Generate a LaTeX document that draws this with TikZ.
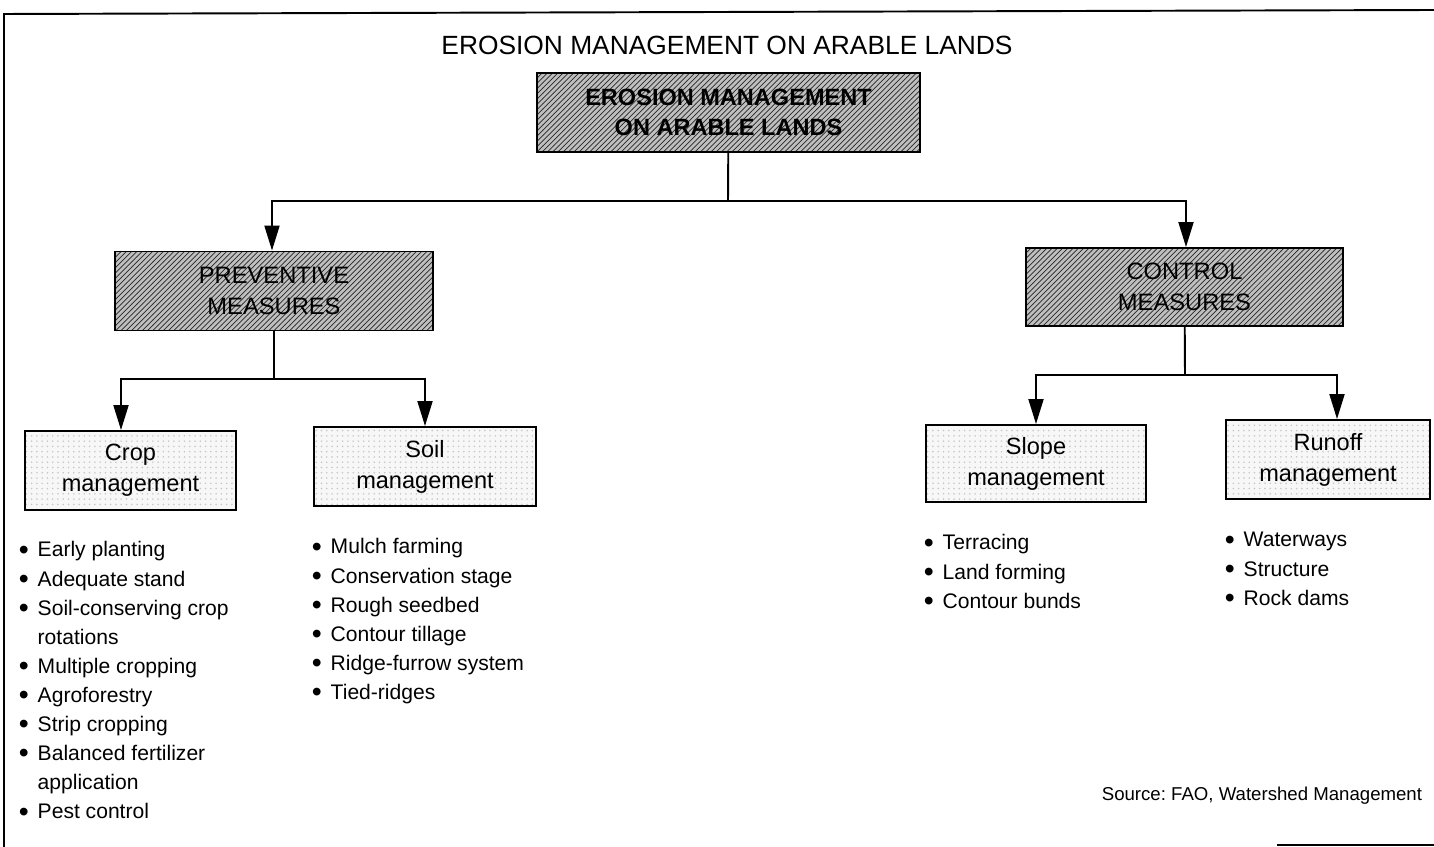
\documentclass[tikz,border=0pt]{standalone}
\usepackage{fontspec}
\setmainfont{Liberation Sans}
\usetikzlibrary{arrows.meta}
\usetikzlibrary{patterns}
\usetikzlibrary{positioning}

\tikzset{
  mainbox/.style={draw, line width=1.1pt, preaction={fill=gray!50},
    pattern=north east lines, pattern color=gray!30!black,
    align=center, inner sep=0pt, font=\fontsize{13.5}{17.6}\selectfont},
  subbox/.style={draw, line width=1.1pt, preaction={fill=gray!6},
    pattern=dots, pattern color=gray!45,
    align=center, inner sep=0pt, font=\fontsize{13.4}{17.6}\selectfont},
  items/.style={anchor=base west, inner sep=0pt, font=\fontsize{12}{16.55}\selectfont},
  arr/.style={-{Triangle[length=5mm, width=3mm]}},
}

\newcommand{\bul}{\raisebox{-0.11em}{\scalebox{1.35}{\textbullet}}}

\begin{document}
\frenchspacing
\begin{tikzpicture}[x=0.02cm, y=-0.02cm, line width=1.1pt]

    \useasboundingbox (0,0) rectangle (1434,847);

    % page frame of the scan
    \draw (4,847) -- (4,14) -- (1434,10);
    \draw (1277,845) -- (1434,845);

    \node[font=\fontsize{15}{18}\selectfont] (head) at (727,45)
    {EROSION MANAGEMENT ON ARABLE LANDS};

    % boxes
    \node[mainbox, minimum width=7.66cm, minimum height=1.58cm,
      font=\bfseries\fontsize{13.4}{17}\selectfont] (top) at (728.5,112.5)
    {EROSION MANAGEMENT\\ON ARABLE LANDS};
    \node[mainbox, minimum width=6.36cm, minimum height=1.58cm] (prev)
    at (274,291) {PREVENTIVE\\MEASURES};
    \node[mainbox, minimum width=6.34cm, minimum height=1.56cm] (ctrl)
    at (1184.5,287) {CONTROL\\MEASURES};
    \node[subbox, minimum width=4.22cm, minimum height=1.58cm] (crop)
    at (130.5,470.5) {Crop\\management};
    \node[subbox, minimum width=4.44cm, minimum height=1.58cm] (soil)
    at (425,466.5) {Soil\\management};
    \node[subbox, minimum width=4.40cm, minimum height=1.54cm] (slope)
    at (1036,463.5) {Slope\\management};
    \node[subbox, minimum width=4.08cm, minimum height=1.58cm] (runoff)
    at (1328,459.5) {Runoff\\management};

    % junctions of the tree
    \coordinate (t1) at (728,201);
    \coordinate (t1l) at (272,201);
    \coordinate (t1r) at (1186,201);
    \coordinate (p1) at (274,379);
    \coordinate (p1l) at (121,379);
    \coordinate (p1r) at (425,379);
    \coordinate (c1) at (1185,375);
    \coordinate (c1l) at (1036,375);
    \coordinate (c1r) at (1337,375);

    \draw (top) -- (t1);
    \draw[arr] (t1) -- (t1l) -- (t1l |- prev.north);
    \draw[arr] (t1) -- (t1r) -- (t1r |- ctrl.north);
    \draw (prev) -- (p1);
    \draw[arr] (p1) -- (p1l) -- (p1l |- crop.north);
    \draw[arr] (p1) -- (p1r) -- (p1r |- soil.north);
    \draw (ctrl) -- (c1);
    \draw[arr] (c1) -- (c1l) -- (c1l |- slope.north);
    \draw[arr] (c1) -- (c1r) -- (c1r |- runoff.north);

    % lists under the boxes
    \node[items] (croplist) at (18,557) {\begin{tabular}[t]{@{}l@{\hspace{5pt}}l@{}}
      \bul & Early planting\\
      \bul & Adequate stand\\
      \bul & Soil-conserving crop\\
           & rotations\\
      \bul & Multiple cropping\\
      \bul & Agroforestry\\
      \bul & Strip cropping\\
      \bul & Balanced fertilizer\\
           & application\\
      \bul & Pest control
    \end{tabular}};
    \node[items] (soillist) at (311,554) {\begin{tabular}[t]{@{}l@{\hspace{5pt}}l@{}}
      \bul & Mulch farming\\
      \bul & Conservation stage\\
      \bul & Rough seedbed\\
      \bul & Contour tillage\\
      \bul & Ridge-furrow system\\
      \bul & Tied-ridges
    \end{tabular}};
    \node[items] (slopelist) at (923,550) {\begin{tabular}[t]{@{}l@{\hspace{5pt}}l@{}}
      \bul & Terracing\\
      \bul & Land forming\\
      \bul & Contour bunds
    \end{tabular}};
    \node[items] (runofflist) at (1224,547) {\begin{tabular}[t]{@{}l@{\hspace{5pt}}l@{}}
      \bul & Waterways\\
      \bul & Structure\\
      \bul & Rock dams
    \end{tabular}};

    \node[anchor=base east, inner sep=0pt, font=\fontsize{10.6}{13}\selectfont]
    (src) at (1423,800) {Source: FAO, Watershed Management};

\end{tikzpicture}
\end{document}
